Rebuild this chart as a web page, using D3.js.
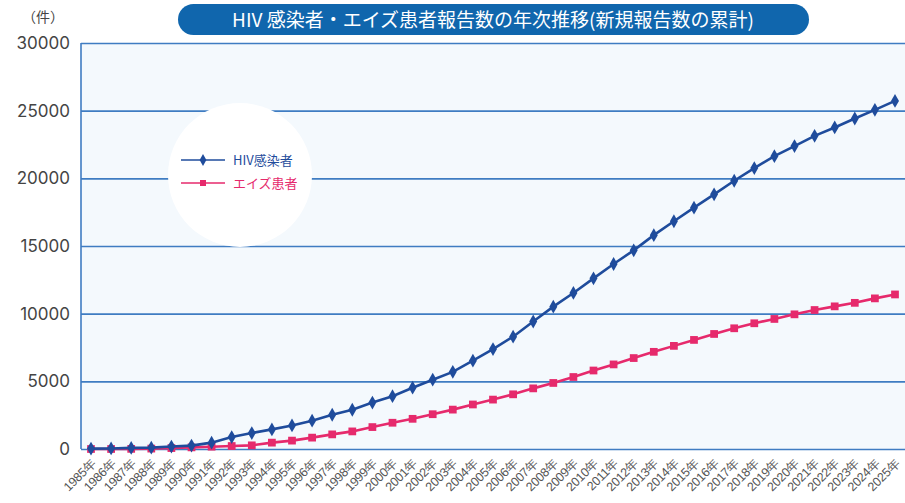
<!DOCTYPE html>
<html>
<head>
<meta charset="utf-8">
<script src="https://cdn.jsdelivr.net/npm/d3@7"></script>
<style>
  body { margin: 0; background: #fff; }
  svg { display: block; font-family: "Noto Sans CJK JP", "Noto Sans", sans-serif; }
</style>
</head>
<body>
<svg id="chart"></svg>
<script>
// data
var years = d3.range(1985, 2026).map(function(y) { return y + "年"; });
var hivValues = [30, 40, 80, 100, 180, 250, 470, 880, 1180, 1450, 1740, 2090, 2530, 2900, 3430, 3900,
  4530, 5120, 5700, 6530, 7380, 8300, 9420, 10520, 11530, 12610, 13670, 14680, 15800, 16830, 17830,
  18820, 19820, 20760, 21640, 22380, 23140, 23760, 24420, 25060, 25720];
var aidsValues = [0, 0, 10, 30, 70, 120, 170, 220, 270, 470, 620, 840, 1080, 1300, 1620, 1940,
  2230, 2570, 2910, 3290, 3650, 4040, 4480, 4880, 5320, 5800, 6250, 6720, 7180, 7620, 8060,
  8500, 8920, 9290, 9610, 9950, 10270, 10540, 10800, 11130, 11420];
var yTicks = [0, 5000, 10000, 15000, 20000, 25000, 30000];
var seriesNames = ["HIV感染者", "エイズ患者"];
var title = "HIV 感染者・エイズ患者報告数の年次推移(新規報告数の累計)";

var svgWidth = 905, svgHeight = 503;
var margin = { top: 43, right: 0, bottom: 54, left: 81 };
var width = svgWidth - margin.left - margin.right;
var height = svgHeight - margin.top - margin.bottom;

var svg = d3.select("#chart")
  .attr("width", svgWidth)
  .attr("height", svgHeight);

var chart = svg.append("g")
  .attr("transform", `translate(${margin.left}, ${margin.top})`);

var x = d3.scalePoint()
  .domain(years)
  .range([10, width - 10]);

var y = d3.scaleLinear()
  .domain([0, 30000])
  .range([height, 0]);

// plot background
chart.append("rect")
  .attr("width", width)
  .attr("height", height)
  .attr("fill", "#f4f9fd");

// grid lines
chart.append("g")
  .call(d3.axisLeft(y).tickValues(yTicks).tickSize(-width).tickFormat(""))
  .call(function(g) {
    g.select(".domain").remove();
    g.selectAll("line").attr("stroke", "#3f7cc2").attr("stroke-width", 1.6);
  });

// left border
chart.append("line")
  .attr("x1", 0).attr("x2", 0)
  .attr("y1", 0).attr("y2", height)
  .attr("stroke", "#3f7cc2").attr("stroke-width", 1.6);

// legend backdrop
chart.append("circle")
  .attr("cx", 159).attr("cy", 132).attr("r", 72)
  .attr("fill", "#fff");

// y axis labels
chart.append("g")
  .call(d3.axisLeft(y).tickValues(yTicks).tickSize(0).tickPadding(11).tickFormat(d3.format("d")))
  .call(function(g) {
    g.select(".domain").remove();
    g.selectAll("text")
      .attr("fill", "#444")
      .style("font-family", "Inter, 'Noto Sans', sans-serif")
      .style("font-size", "17px");
  });

// x axis labels
chart.append("g")
  .attr("transform", `translate(0, ${height})`)
  .call(d3.axisBottom(x).tickSize(0).tickPadding(0))
  .call(function(g) {
    g.select(".domain").remove();
    g.selectAll("text")
      .attr("fill", "#555")
      .style("font-size", "12.5px")
      .style("letter-spacing", "-0.3px")
      .style("text-anchor", "end")
      .attr("dy", "0.35em")
      .attr("transform", "translate(2, 12) rotate(-45)");
  });

var series = [
  { name: seriesNames[0], values: hivValues, color: "#1f4c9c", symbol: d3.symbolDiamond, size: 55 },
  { name: seriesNames[1], values: aidsValues, color: "#e62a6c", symbol: d3.symbolSquare, size: 60 }
];

var line = d3.line()
  .x(function(d, i) { return x(years[i]); })
  .y(function(d) { return y(d); });

// aids drawn first so hiv sits on top
series.slice().reverse().forEach(function(s) {
  chart.append("path")
    .datum(s.values)
    .attr("fill", "none")
    .attr("stroke", s.color)
    .attr("stroke-width", 2.6)
    .attr("d", line);

  chart.selectAll()
    .data(s.values)
    .enter()
    .append("path")
    .attr("d", d3.symbol().type(s.symbol).size(s.size))
    .attr("transform", function(d, i) { return `translate(${x(years[i])}, ${y(d)})`; })
    .attr("fill", s.color);
});

// legend
var legend = chart.append("g").attr("transform", "translate(100, 117)");
series.forEach(function(s, i) {
  var row = legend.append("g").attr("transform", `translate(0, ${i * 23})`);
  row.append("line")
    .attr("x1", 0).attr("x2", 44)
    .attr("stroke", s.color).attr("stroke-width", 1.6);
  row.append("path")
    .attr("d", d3.symbol().type(s.symbol).size(i === 0 ? 40 : 36))
    .attr("transform", "translate(22, 0)")
    .attr("fill", s.color);
  row.append("text")
    .attr("x", 52).attr("dy", "0.35em")
    .attr("fill", s.color)
    .style("font-size", "13px")
    .text(s.name);
});

// unit label
svg.append("text")
  .attr("x", 43).attr("y", 22)
  .attr("text-anchor", "middle")
  .attr("fill", "#444")
  .style("font-size", "14px")
  .text("（件）");

// title pill
svg.append("rect")
  .attr("x", 178).attr("y", 4)
  .attr("width", 631).attr("height", 31)
  .attr("rx", 15.5)
  .attr("fill", "#1066ad");

svg.append("text")
  .attr("x", 493).attr("y", 20)
  .attr("dy", "0.36em")
  .attr("text-anchor", "middle")
  .attr("fill", "#fff")
  .style("font-size", "19px")
  .text(title);
</script>
</body>
</html>
